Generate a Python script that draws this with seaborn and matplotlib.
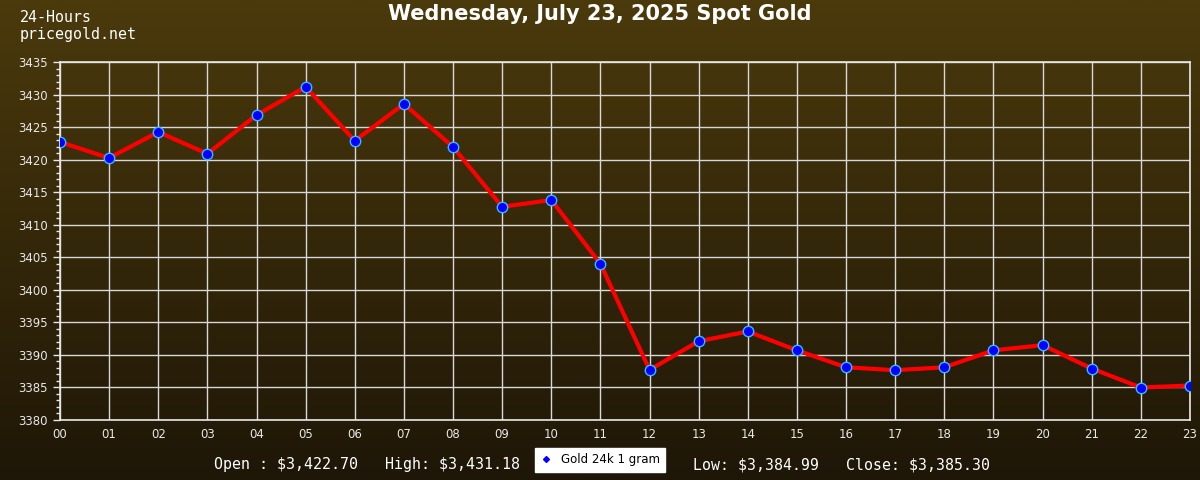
import numpy as np
import pandas as pd
import matplotlib
matplotlib.use("Agg")
import matplotlib.pyplot as plt
from matplotlib.lines import Line2D
from matplotlib.ticker import MultipleLocator
import seaborn as sns

# ---- data ----
hours = ["00", "01", "02", "03", "04", "05", "06", "07", "08", "09", "10", "11",
         "12", "13", "14", "15", "16", "17", "18", "19", "20", "21", "22", "23"]
prices = [3422.70, 3420.25, 3424.25, 3420.90, 3426.85, 3431.18, 3422.90, 3428.55,
          3421.95, 3412.75, 3413.80, 3404.00, 3387.70, 3392.10, 3393.60, 3390.70,
          3388.10, 3387.65, 3388.10, 3390.70, 3391.50, 3387.90, 3384.99, 3385.30]
y_ticks = [3380, 3385, 3390, 3395, 3400, 3405, 3410, 3415, 3420, 3425, 3430, 3435]
title = "Wednesday, July 23, 2025 Spot Gold"
series_name = "Gold 24k 1 gram"
corner_lines = ["24-Hours", "pricegold.net"]
stats_left = "Open : $3,422.70   High: $3,431.18"
stats_right = "Low: $3,384.99   Close: $3,385.30"

df = pd.DataFrame({"x": np.arange(len(hours)), "price": prices})

sns.set_theme(style="dark")
plt.rcParams["font.family"] = ["DejaVu Sans"]

fig = plt.figure(figsize=(12, 4.8), dpi=100)

# gradient background
bg = fig.add_axes([0, 0, 1, 1], zorder=-10)
top = np.array([0x4b, 0x3a, 0x0c]) / 255
bot = np.array([0x1e, 0x16, 0x07]) / 255
t = np.linspace(0, 1, 256)[:, None]
grad = (top[None, :] * (1 - t) + bot[None, :] * t)[:, None, :]
bg.imshow(grad, aspect="auto", extent=[0, 1, 0, 1], origin="upper")
bg.set_axis_off()

ax = fig.add_axes([60 / 1200, 1 - 420 / 480, (1190 - 60) / 1200, (420 - 62) / 480])
ax.set_facecolor("none")

sns.lineplot(data=df, x="x", y="price", ax=ax, color="#ff0000", linewidth=3.0,
             marker="o", markersize=7.5, markerfacecolor="#0000ff",
             markeredgecolor="#33bbff", markeredgewidth=1.0, zorder=5)

ax.set_xlim(0, len(hours) - 1)
ax.set_ylim(y_ticks[0], y_ticks[-1])
ax.set_xticks(np.arange(len(hours)))
ax.set_xticklabels(hours)
ax.set_yticks(y_ticks)
ax.yaxis.set_minor_locator(MultipleLocator(1))
ax.grid(True, which="major", color="#d8d8d8", linewidth=1.0)
ax.grid(False, which="minor")
ax.set_xlabel("")
ax.set_ylabel("")
for s in ["left", "bottom", "top", "right"]:
    ax.spines[s].set_visible(True)
    ax.spines[s].set_color("#e8e8e8")
    ax.spines[s].set_linewidth(1.2)
ax.tick_params(axis="y", which="major", left=True, length=5, width=1, color="#e8e8e8",
               labelsize=8.5, labelcolor="#e8e8e8", pad=4)
ax.tick_params(axis="y", which="minor", left=True, length=3, width=1, color="#e8e8e8")
ax.tick_params(axis="x", which="major", bottom=False, length=0, labelsize=8.5,
               labelcolor="#e8e8e8", pad=6)

fig.text(0.5, 1 - 14 / 480, title, ha="center", va="center", color="white",
         fontsize=15, fontweight="bold", family="DejaVu Sans")
fig.text(20 / 1200, 1 - 18 / 480, corner_lines[0], ha="left", va="center",
         color="white", fontsize=10.8, family="DejaVu Sans Mono")
fig.text(20 / 1200, 1 - 34 / 480, corner_lines[1], ha="left", va="center",
         color="white", fontsize=10.8, family="DejaVu Sans Mono")
fig.text(520 / 1200, 1 - 465 / 480, stats_left, ha="right", va="center",
         color="white", fontsize=10.8, family="DejaVu Sans Mono", parse_math=False)
fig.text(693 / 1200, 1 - 465 / 480, stats_right, ha="left", va="center",
         color="white", fontsize=10.7, family="DejaVu Sans Mono", parse_math=False)

handle = Line2D([], [], linestyle="none", marker="D", markersize=3,
                markerfacecolor="#0000ff", markeredgecolor="#0000ff")
leg = fig.legend([handle], [series_name], loc="center", bbox_to_anchor=(600 / 1200, 1 - 460 / 480),
                 frameon=True, fancybox=False, fontsize=8.5, handlelength=1.0,
                 borderpad=0.45, handletextpad=0.7, borderaxespad=0)
leg.get_frame().set_facecolor("white")
leg.get_frame().set_edgecolor("white")
leg.get_frame().set_alpha(1)
for txt in leg.get_texts():
    txt.set_color("black")

fig.savefig("out.png", dpi=100)
